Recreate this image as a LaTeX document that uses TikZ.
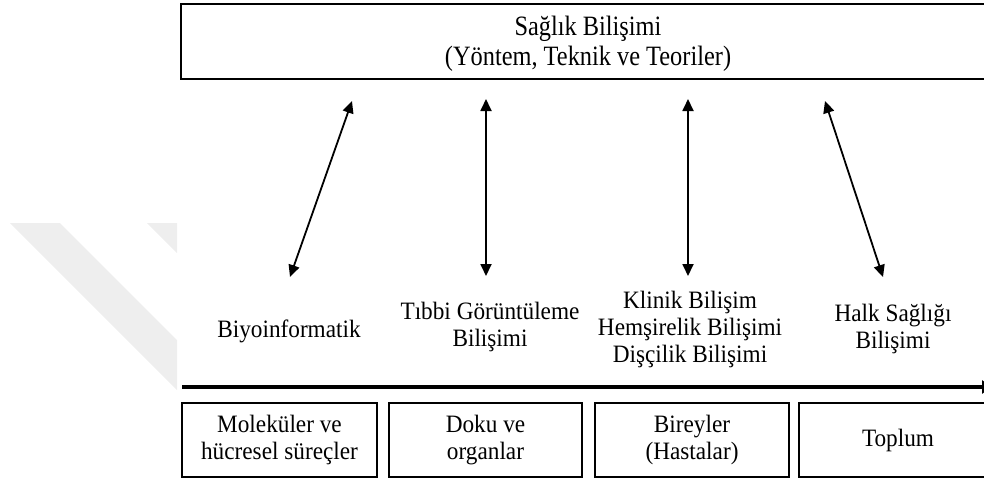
\documentclass[tikz,border=0pt]{standalone}
\usepackage{fontspec}
\setmainfont{Liberation Serif}
\newfontfamily\titlefont{Liberation Serif}[FakeStretch=0.87]
\newfontfamily\labelfont{Liberation Serif}[FakeStretch=0.93]
\usetikzlibrary{arrows.meta}

\definecolor{wmark}{RGB}{238,238,238}

% fixed line pitch, accents never push lines apart
\newcommand\titlesize{\titlefont\fontsize{28}{30}\selectfont}
\newcommand\fieldsize{\labelfont\fontsize{25}{27}\selectfont\setlength{\lineskiplimit}{-20pt}}

\begin{document}
\begin{tikzpicture}[x=1pt,y=-1pt,
  frame/.style={draw=black, line width=1.7pt},
  titletext/.style={font=\titlesize, anchor=base, inner sep=0pt},
  fieldtext/.style={font=\fieldsize, align=center, inner sep=0pt},
  levelbox/.style={frame, fieldtext, minimum width=#1, minimum height=74pt},
  link/.style={line width=1.8pt,
    {Triangle[length=12pt,width=11pt]}-{Triangle[length=12pt,width=11pt]}},
  axis/.style={line width=4.5pt, -{Triangle[length=10pt,width=13pt]}}
]
\useasboundingbox (0,0) rectangle (984,479);
\clip (0,0) rectangle (984,479);

% faint background bands
\fill[wmark] (10,223) -- (60,223) -- (177,340) -- (177,390) -- cycle;
\fill[wmark] (147,223) -- (177,223) -- (177,253) -- cycle;

% umbrella field, its two title lines set on fixed baselines
\node[frame, minimum width=814pt, minimum height=75pt] (field) at (588,41.5) {};
\node[titletext] (title) at (588,35) {Sağlık Bilişimi};
\node[titletext] (subtitle) at (588,65) {(Yöntem, Teknik ve Teoriler)};

% sub-fields
\node[fieldtext] (bio) at (289,331.4) {Biyoinformatik};
\node[fieldtext] (img) at (490,327) {Tıbbi Görüntüleme\\Bilişimi};
\node[fieldtext] (clin) at (690,329.3) {Klinik Bilişim\\Hemşirelik Bilişimi\\Dişçilik Bilişimi};
\node[fieldtext] (pub) at (893,328.7) {Halk Sağlığı\\Bilişimi};

% arrow ends
\coordinate (b1) at (290,277); \coordinate (t1) at (352,101);
\coordinate (b2) at (486,276); \coordinate (t2) at (486,99);
\coordinate (b3) at (688,276); \coordinate (t3) at (688,99);
\coordinate (b4) at (883,277); \coordinate (t4) at (825,101);
\draw[link] (b1) -- (t1);
\draw[link] (b2) -- (t2);
\draw[link] (b3) -- (t3);
\draw[link] (b4) -- (t4);

% scale axis
\coordinate (axL) at (182,387);
\coordinate (axR) at (992,387);
\draw[axis] (axL) -- (axR);

% levels
\node[levelbox=195pt] (mol) at (279.5,440) {Moleküler ve\\hücresel süreçler};
\node[levelbox=193pt] (org) at (485.5,440) {Doku ve\\organlar};
\node[levelbox=194pt] (ind) at (692,440) {Bireyler\\(Hastalar)};
\node[levelbox=198pt] (soc) at (898,440) {Toplum};
\end{tikzpicture}
\end{document}
